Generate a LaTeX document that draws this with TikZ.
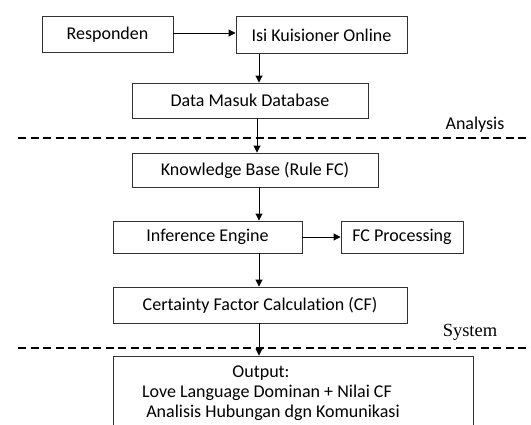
\documentclass[tikz,border=0pt]{standalone}
\usepackage{fontspec}
\setmainfont{Carlito}[Ligatures=CommonOff]
\newfontfamily\serifsys{Liberation Serif}
\usetikzlibrary{arrows.meta}
\begin{document}
\begin{tikzpicture}[x=1pt,y=-1pt,
  box/.style={draw=black!80,line width=0.9pt,inner sep=0pt,font=\fontsize{18}{20}\selectfont},
  arr/.style={line width=0.9pt,-{Triangle[length=7pt,width=7pt]}},
  sep/.style={line width=1.8pt,dash pattern=on 8pt off 4.5pt}]
\useasboundingbox (0,0) rectangle (531,424);
\clip (0,0) rectangle (531,424);
\coordinate (ax) at (259,0);
\coordinate (ax2) at (257,0);
% boxes
\node[box,minimum width=131pt,minimum height=36pt] (resp) at (107.5,34.5) {Responden};
\node[box,minimum width=171pt,minimum height=37pt] (isi) at (321.5,35) {Isi Kuisioner Online};
\node[box,minimum width=236pt,minimum height=35pt] (data) at (250,100.5) {Data Masuk Database};
\node[box,minimum width=246pt,minimum height=34pt] (kb) at (255,170) {Knowledge Base (Rule FC)};
\node[box,minimum width=189pt,minimum height=32pt] (inf) at (207.5,237) {Inference Engine};
\node[box,minimum width=122pt,minimum height=32pt] (fcp) at (402,237) {FC Processing};
\node[box,minimum width=294pt,minimum height=36pt] (cf) at (260,305) {Certainty Factor Calculation (CF)};
\node[draw=black!80,line width=0.9pt,minimum width=360pt,minimum height=80pt,inner sep=0pt] (out) at (293,396) {};
\node[font=\fontsize{18}{20}\selectfont,align=center,inner sep=0pt,anchor=north] (outtxt) at (267,366)
  {\hspace*{-12pt}Output:\\Love Language Dominan + Nilai CF\\\hspace*{12pt}Analisis Hubungan dgn Komunikasi};
% separators
\coordinate (s1l) at (18,138);
\coordinate (s1r) at (531,138);
\coordinate (s2l) at (18,348);
\coordinate (s2r) at (531,348);
\draw[sep] (s1l) -- (s1r);
\draw[sep] (s2l) -- (s2r);
\node[font=\fontsize{18}{20}\selectfont,inner sep=0pt] (lana) at (475,125) {Analysis};
\node[font=\serifsys\fontsize{18.5}{20}\selectfont,inner sep=0pt] (lsys) at (470,332) {System};
% arrows
\draw[arr] (resp.east |- 0,33) -- (isi.west |- 0,33);
\draw[arr] (isi.south -| ax) -- (data.north -| ax);
\draw[arr] (data.south -| ax2) -- (kb.north -| ax2);
\draw[arr] (kb.south -| ax) -- (inf.north -| ax);
\draw[arr] (inf.east) -- (fcp.west);
\draw[arr] (inf.south -| ax) -- (cf.north -| ax);
\draw[arr] (cf.south -| ax) -- (out.north -| ax);
\end{tikzpicture}
\end{document}
